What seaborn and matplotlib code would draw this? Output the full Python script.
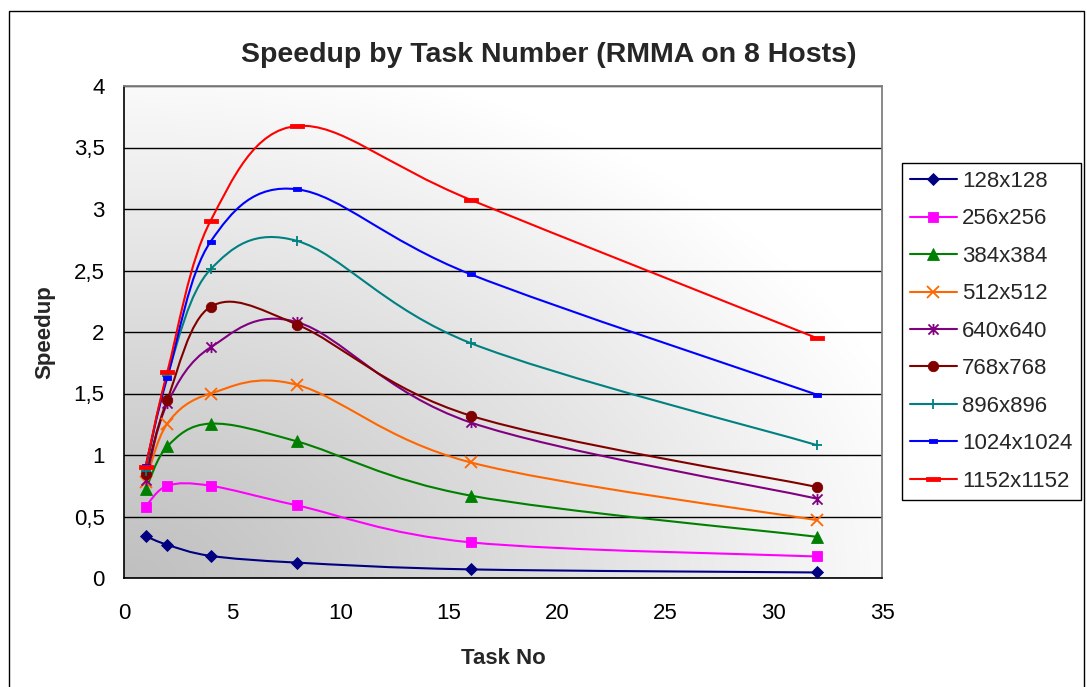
import numpy as np
import matplotlib
matplotlib.use("Agg")
import matplotlib.pyplot as plt
import seaborn as sns
from matplotlib.path import Path
from matplotlib.patches import PathPatch, Rectangle
from matplotlib.lines import Line2D

# ---------------- data ----------------
tasks = [1, 2, 4, 8, 16, 32]
series_names = ["128x128", "256x256", "384x384", "512x512", "640x640",
                "768x768", "896x896", "1024x1024", "1152x1152"]
s128 = [0.34, 0.27, 0.18, 0.125, 0.07, 0.045]
s256 = [0.58, 0.75, 0.75, 0.59, 0.29, 0.175]
s384 = [0.72, 1.07, 1.255, 1.11, 0.67, 0.335]
s512 = [0.78, 1.255, 1.50, 1.57, 0.94, 0.47]
s640 = [0.80, 1.42, 1.875, 2.08, 1.265, 0.645]
s768 = [0.845, 1.45, 2.205, 2.06, 1.32, 0.74]
s896 = [0.87, 1.645, 2.51, 2.74, 1.91, 1.08]
s1024 = [0.91, 1.63, 2.735, 3.16, 2.47, 1.49]
s1152 = [0.905, 1.675, 2.905, 3.675, 3.075, 1.95]
all_series = [s128, s256, s384, s512, s640, s768, s896, s1024, s1152]

xticks = [0, 5, 10, 15, 20, 25, 30, 35]
yticks = [0, 0.5, 1, 1.5, 2, 2.5, 3, 3.5, 4]
ytick_labels = ["0", "0,5", "1", "1,5", "2", "2,5", "3", "3,5", "4"]

title = "Speedup by Task Number (RMMA on 8 Hosts)"
xlabel = "Task No"
ylabel = "Speedup"

# ---------------- style ----------------
sns.set_style("white")
plt.rcParams["font.family"] = ["Liberation Sans", "DejaVu Sans"]

colors = ["#000080", "#FF00FF", "#008000", "#FF6600", "#800080",
          "#800000", "#008080", "#0000FF", "#FF0000"]

star = Path([(-1, -1), (1, 1), (-1, 1), (1, -1), (0, -1.1), (0, 1.1)],
            [Path.MOVETO, Path.LINETO, Path.MOVETO, Path.LINETO, Path.MOVETO, Path.LINETO])
short_dash = Path([(-1, -0.45), (1, -0.45), (1, 0.45), (-1, 0.45), (-1, -0.45)],
                  [Path.MOVETO, Path.LINETO, Path.LINETO, Path.LINETO, Path.CLOSEPOLY])
long_dash = Path([(-1, -0.3), (1, -0.3), (1, 0.3), (-1, 0.3), (-1, -0.3)],
                 [Path.MOVETO, Path.LINETO, Path.LINETO, Path.LINETO, Path.CLOSEPOLY])

markers = ["D", "s", "^", "x", star, "o", "+", short_dash, long_dash]
msizes = [6.0, 7.0, 8.0, 8.5, 8.0, 7.5, 7.5, 6.0, 10.0]
mfilled = [True, True, True, False, False, True, False, True, True]

W, H = 1087, 687
fig = plt.figure(figsize=(W / 100, H / 100), dpi=100)
fig.patch.set_facecolor("white")
L, R, T, B = 124, 882, 86, 578
ax = fig.add_axes([L / W, 1 - B / H, (R - L) / W, (B - T) / H])

# gradient background (gray in lower-left corner to white)
u = np.linspace(0, 1, 300)
v = np.linspace(0, 1, 300)
UU, VV = np.meshgrid(u, v)
t = np.clip(np.sqrt(UU ** 2 + VV ** 2) / 1.08, 0, 1) ** 1.1
g = (192 + 63 * t) / 255.0
img = np.dstack([g, g, g])
ax.imshow(img, extent=(0, 1, 0, 1), transform=ax.transAxes, origin="lower",
          aspect="auto", zorder=0, interpolation="bilinear")


def smooth_path(xs, ys):
    pts = np.column_stack([xs, ys]).astype(float)
    n = len(pts)
    verts = [pts[0]]
    codes = [Path.MOVETO]
    for i in range(n - 1):
        p0 = pts[i - 1] if i > 0 else pts[i]
        p1 = pts[i]
        p2 = pts[i + 1]
        p3 = pts[i + 2] if i + 2 < n else pts[i + 1]
        c1 = p1 + (p2 - p0) / 6.0
        c2 = p2 - (p3 - p1) / 6.0
        verts += [c1, c2, p2]
        codes += [Path.CURVE4] * 3
    return Path(verts, codes)


handles = []
for name, vals, c, mk, ms, filled in zip(series_names, all_series, colors, markers, msizes, mfilled):
    patch = PathPatch(smooth_path(tasks, vals), fill=False, edgecolor=c, lw=1.5, zorder=3)
    ax.add_patch(patch)
    mkw = dict(marker=mk, markersize=ms, markeredgecolor=c,
               markerfacecolor=(c if filled else "none"),
               markeredgewidth=(0.6 if filled else 1.3))
    sns.lineplot(x=tasks, y=vals, ax=ax, color=c, linewidth=0, legend=False,
                 zorder=4, **mkw)
    handles.append(Line2D([0], [0], color=c, lw=1.5, **mkw))

ax.set_xlim(0, 35)
ax.set_ylim(0, 4)
ax.set_xticks(xticks)
ax.set_yticks(yticks)
ax.set_yticklabels(ytick_labels)
ax.set_axisbelow(True)
ax.yaxis.grid(True, color="black", lw=1.0)
ax.xaxis.grid(False)
ax.tick_params(axis="both", direction="out", length=6, width=1, colors="black",
               labelsize=16)
ax.tick_params(axis="x", pad=12)
ax.tick_params(axis="y", pad=8)
for side in ["left", "bottom"]:
    ax.spines[side].set_color("black")
    ax.spines[side].set_linewidth(1.2)
for side in ["top", "right"]:
    ax.spines[side].set_color("#808080")
    ax.spines[side].set_linewidth(1.3)
ax.set_xlabel("")
ax.set_ylabel("")

fig.text(549 / W, 1 - 62 / H, title, ha="center", va="baseline",
         fontsize=20.5, fontweight="bold")
fig.text(503 / W, 1 - 664 / H, xlabel, ha="center", va="baseline",
         fontsize=16, fontweight="bold")
fig.text(45 / W, 1 - 332 / H, ylabel, ha="center", va="center", rotation=90,
         fontsize=16, fontweight="bold")

leg = ax.legend(handles, series_names, loc="upper left",
                bbox_to_anchor=(902 / W, 1 - 163 / H), bbox_transform=fig.transFigure,
                borderaxespad=0, fontsize=16, frameon=True, fancybox=False,
                handlelength=2.1, handletextpad=0.25, labelspacing=0.74,
                borderpad=0.36)
leg.get_frame().set_edgecolor("black")
leg.get_frame().set_linewidth(1.0)
leg.get_frame().set_facecolor("white")
leg.get_frame().set_alpha(1)

frame = Rectangle((9 / W, -0.2), (1084 - 9) / W, (H - 11) / H + 0.2,
                  transform=fig.transFigure, fill=False, edgecolor="black",
                  lw=1.0, clip_on=False)
fig.add_artist(frame)

fig.savefig("out.png", dpi=100)
